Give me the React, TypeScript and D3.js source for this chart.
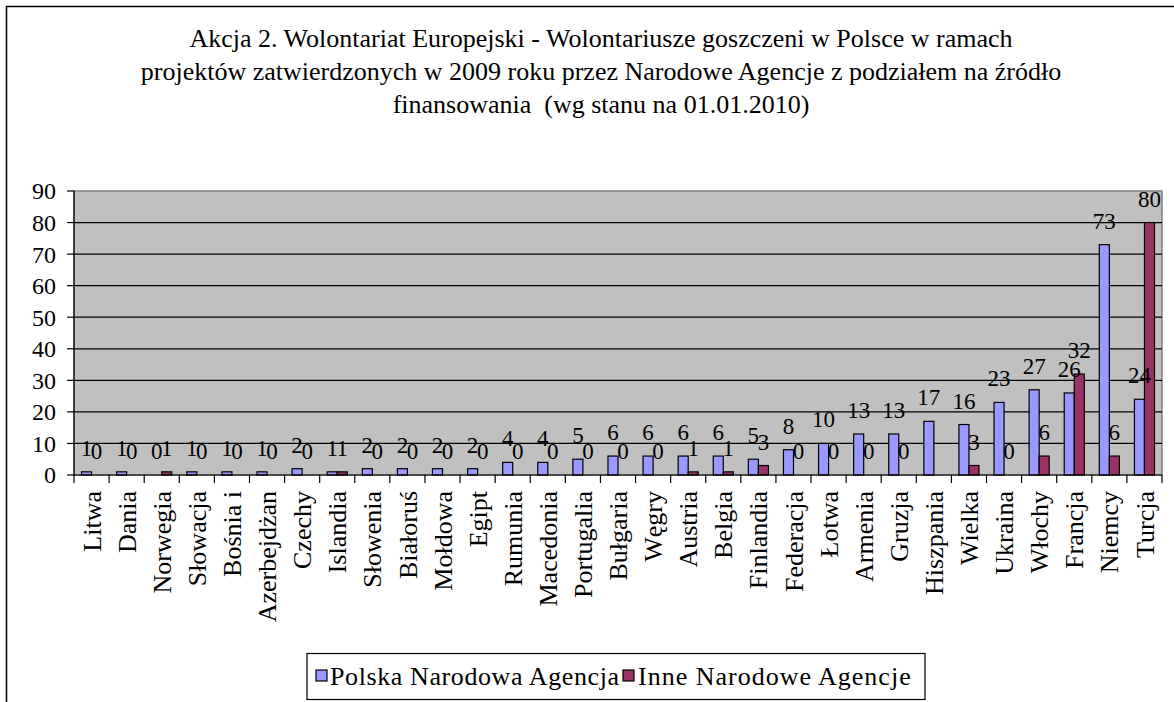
import React from "react";
import * as d3 from "d3";

const categories = ["Litwa","Dania","Norwegia","Słowacja","Bośnia i","Azerbejdżan","Czechy","Islandia","Słowenia","Białoruś","Mołdowa","Egipt","Rumunia","Macedonia","Portugalia","Bułgaria","Węgry","Austria","Belgia","Finlandia","Federacja","Łotwa","Armenia","Gruzja","Hiszpania","Wielka","Ukraina","Włochy","Francja","Niemcy","Turcja"];
const polska: (number | null)[] = [1,1,0,1,1,1,2,1,2,2,2,2,4,4,5,6,6,6,6,5,8,10,13,13,17,16,23,27,26,73,24];
const inne: (number | null)[] = [0,0,1,0,0,0,0,1,0,0,0,0,0,0,0,0,0,1,1,3,0,0,0,0,null,3,0,6,32,6,80];
const yTicks = [0,10,20,30,40,50,60,70,80,90];
const seriesNames = ["Polska Narodowa Agencja","Inne Narodowe Agencje"];
const seriesColors = ["#9999FF","#993366"];
const titleLines = [
  "Akcja 2. Wolontariat Europejski - Wolontariusze goszczeni w Polsce w ramach",
  "projektów zatwierdzonych w 2009 roku przez Narodowe Agencje z podziałem na źródło",
  "finansowania  (wg stanu na 01.01.2010)",
];

const FONT = "'Liberation Serif', 'Times New Roman', serif";

export default function App() {
  const W = 1174, H = 702;
  const left = 74, right = 1162, top = 191, bottom = 475;
  const x = d3.scaleBand<string>().domain(categories).range([left, right]).padding(0);
  const y = d3.scaleLinear().domain([0, 90]).range([bottom, top]);
  const bw = x.bandwidth() / 3.5;
  const series = [polska, inne];

  return (
    <svg width={W} height={H} style={{ position: "absolute", left: 0, top: 0, background: "#fff" }} fontFamily={FONT}>
      <rect x={6.5} y={6.5} width={W + 10} height={H + 10} fill="#fff" stroke="#000" strokeWidth={1.5} />
      {titleLines.map((t, i) => (
        <text key={i} x={601} y={47 + i * 33} textAnchor="middle" fontSize={26} fill="#000" style={{ whiteSpace: "pre" }}>{t}</text>
      ))}
      <rect x={left} y={top} width={right - left} height={bottom - top} fill="#C0C0C0" stroke="#808080" strokeWidth={1.5} />
      {yTicks.filter(t => t > 0 && t < 90).map(t => (
        <line key={t} x1={left} x2={right} y1={y(t)} y2={y(t)} stroke="#000" strokeWidth={1.2} />
      ))}
      {yTicks.map(t => (
        <g key={t}>
          <line x1={left - 7} x2={left} y1={y(t)} y2={y(t)} stroke="#000" strokeWidth={1.2} />
          <text x={56} y={y(t)} dy="0.35em" textAnchor="end" fontSize={24}>{t}</text>
        </g>
      ))}
      {series.map((s, si) => s.map((v, i) => {
        if (v === null) return null;
        const cx = (x(categories[i]) as number) + x.bandwidth() / 2;
        const bx = cx - bw + si * bw;
        return (
          <rect key={si + "-" + i} x={bx} y={y(v)} width={bw} height={bottom - y(v)} fill={seriesColors[si]} stroke="#000" strokeWidth={1.2} />
        );
      }))}
      <line x1={left} x2={left} y1={top} y2={bottom} stroke="#000" strokeWidth={1.2} />
      <line x1={left} x2={right} y1={bottom} y2={bottom} stroke="#000" strokeWidth={1.2} />
      {categories.map((c, i) => (
        <line key={"xt" + i} x1={x(c) as number} x2={x(c) as number} y1={bottom} y2={bottom + 8} stroke="#000" strokeWidth={1.2} />
      ))}
      <line x1={right} x2={right} y1={bottom} y2={bottom + 8} stroke="#000" strokeWidth={1.2} />
      {series.map((s, si) => s.map((v, i) => {
        if (v === null) return null;
        const cx = (x(categories[i]) as number) + x.bandwidth() / 2;
        const lx = cx - bw / 2 + si * bw;
        return (
          <text key={"l" + si + "-" + i} x={lx} y={y(v) - 16} textAnchor="middle" fontSize={23}>{v}</text>
        );
      }))}
      {categories.map((c, i) => {
        const cx = (x(c) as number) + x.bandwidth() / 2;
        return (
          <text key={"xl" + i} transform={`translate(${cx},491) rotate(-90)`} dy="0.35em" textAnchor="end" fontSize={26}>{c}</text>
        );
      })}
      <rect x={307} y={653.5} width={618} height={46} fill="#fff" stroke="#000" strokeWidth={1.2} />
      <rect x={316} y={670} width={11} height={11} fill={seriesColors[0]} stroke="#000" strokeWidth={1.2} />
      <text x={330} y={685} fontSize={26} letterSpacing={0.6}>{seriesNames[0]}</text>
      <rect x={623} y={670} width={11} height={11} fill={seriesColors[1]} stroke="#000" strokeWidth={1.2} />
      <text x={638} y={685} fontSize={26} letterSpacing={1}>{seriesNames[1]}</text>
    </svg>
  );
}
